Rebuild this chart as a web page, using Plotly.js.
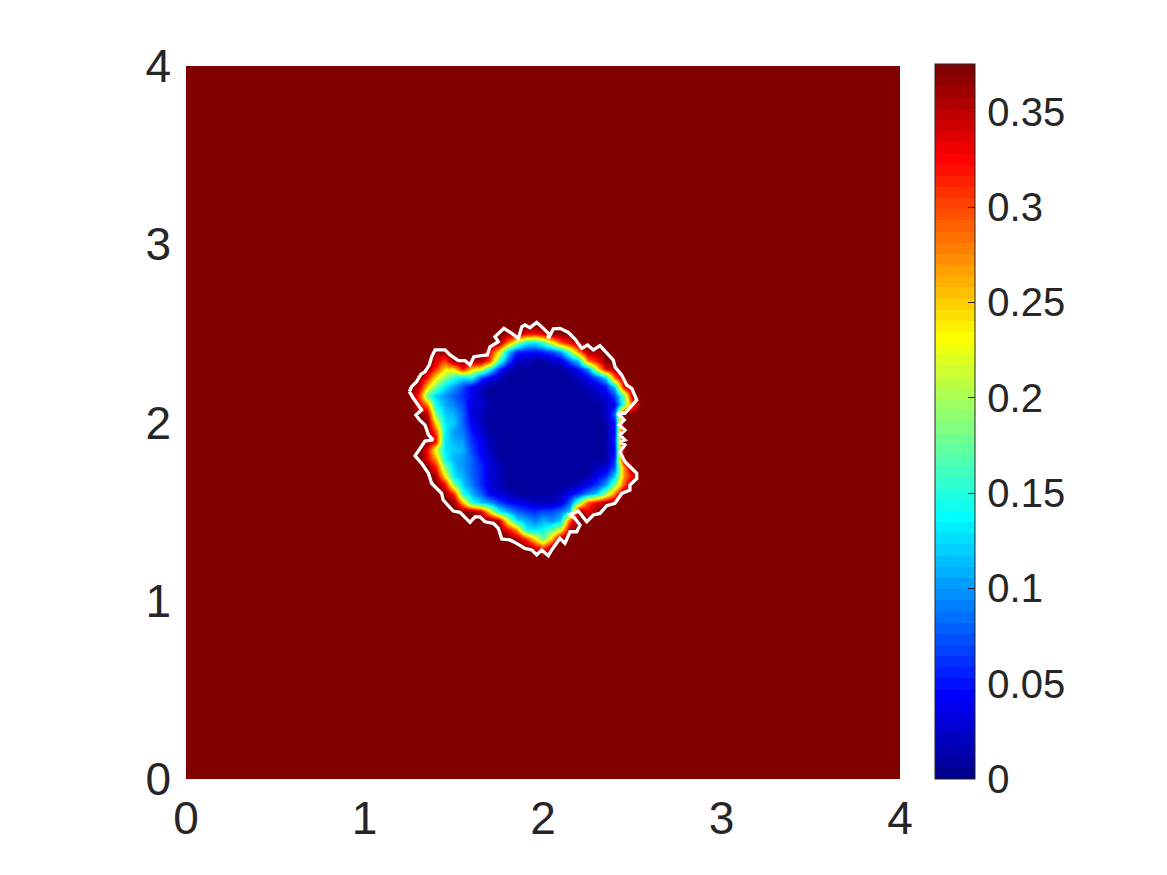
<!DOCTYPE html>
<html>
<head>
<meta charset="utf-8">
<script src="https://cdn.plot.ly/plotly-3.0.1.min.js"></script>
<style>html,body{margin:0;padding:0;background:#fff}#chart{width:1167px;height:875px}</style>
</head>
<body>
<div id="chart"></div>
<script>
// Field sampled every 0.05 over the whole square; outside the blob it sits at the top of the scale.
const GRID_STEP = 0.05;
const GRID_COUNT = 81;
const FIELD_OUTSIDE = 0.38;
const BLOB_X_START = 1.20;   // x of the first column in blobRows
const BLOB_Y_TOP = 2.50;     // y of the first row in blobRows (rows go downward)
// values in hundredths
const blobRows = [
[38,38,38,38,38,38,38,38,38,38,38,38,36,37,33,32,34,37,37,37,38,38,38,38,38,38,38,38,38],
[38,38,38,38,38,38,38,38,38,38,38,37,28,20,14,13,16,22,29,33,36,38,38,38,38,38,38,38,38],
[38,38,38,38,36,37,38,38,38,38,33,24,12,6,5,5,6,7,10,18,28,36,36,37,38,38,38,38,38],
[38,38,38,38,34,30,37,37,36,36,30,17,8,2,2,1,1,2,3,8,12,28,32,37,38,38,38,38,38],
[38,38,38,37,31,24,24,32,25,22,14,6,2,1,1,1,1,1,1,2,5,9,22,33,36,38,38,38,38],
[38,38,37,32,24,19,15,13,14,7,4,2,1,1,1,1,1,1,1,1,2,4,7,12,29,36,38,38,38],
[38,38,35,25,18,13,10,7,4,2,1,1,1,1,1,1,1,1,1,1,1,2,3,5,12,33,37,38,38],
[38,37,31,17,12,10,8,6,4,2,1,1,1,1,1,1,1,1,1,1,1,1,2,3,7,17,36,38,38],
[38,38,33,28,14,11,9,7,3,3,1,1,1,1,1,1,1,1,1,1,1,1,1,2,4,16,30,38,38],
[38,38,37,35,18,12,11,8,3,2,1,1,1,1,1,1,1,1,1,1,1,1,1,2,8,36,38,38,38],
[38,38,38,37,24,13,12,8,4,2,1,1,1,1,1,1,1,1,1,1,1,1,1,1,5,37,38,38,38],
[38,38,38,38,30,14,10,9,5,3,1,1,1,1,1,1,1,1,1,1,1,1,1,1,5,38,38,38,38],
[38,38,38,38,33,13,11,10,6,4,2,1,1,1,1,1,1,1,1,1,1,1,1,1,6,38,38,38,38],
[38,38,38,33,22,13,12,11,7,4,2,1,1,1,1,1,1,1,1,1,1,1,1,1,5,36,38,38,38],
[38,38,38,33,27,14,11,10,8,5,3,1,1,1,1,1,1,1,1,1,1,1,1,1,6,37,38,38,38],
[38,38,38,38,32,19,12,10,8,6,3,2,1,1,1,1,1,1,1,1,1,1,2,3,8,27,37,38,38],
[38,38,38,38,36,24,13,11,8,6,3,2,1,1,1,1,1,1,1,1,1,1,4,6,12,27,33,38,38],
[38,38,38,38,38,33,19,12,9,6,3,2,1,1,1,1,1,1,1,1,2,4,6,10,18,29,38,38,38],
[38,38,38,38,38,37,31,15,11,8,4,3,2,1,1,1,1,1,2,4,6,9,12,19,28,38,38,38,38],
[38,38,38,38,38,38,37,26,15,12,10,7,5,4,3,2,2,2,3,8,18,30,33,36,37,38,38,38,38],
[38,38,38,38,38,38,38,38,37,34,24,14,11,8,7,6,7,7,9,12,38,33,37,38,38,38,38,38,38],
[38,38,38,38,38,38,38,38,38,38,38,35,22,13,11,9,11,10,12,30,38,38,38,38,38,38,38,38,38],
[38,38,38,38,38,38,38,38,38,38,38,38,33,27,14,13,14,17,22,35,38,38,38,38,38,38,38,38,38],
[38,38,38,38,38,38,38,38,38,38,38,38,38,36,31,24,17,25,37,38,38,38,38,38,38,38,38,38,38],
[38,38,38,38,38,38,38,38,38,38,38,38,38,38,38,34,30,36,38,38,38,38,38,38,38,38,38,38,38]
];
// White front line
const frontX = [1.251,1.264,1.292,1.315,1.339,1.363,1.376,1.395,1.451,1.479,1.526,1.563,1.591,1.613,1.657,1.688,1.703,1.750,1.731,1.781,1.825,1.862,1.881,1.899,1.927,1.965,2.002,2.030,2.030,2.058,2.095,2.142,2.179,2.217,2.250,2.282,2.319,2.357,2.394,2.403,2.441,2.469,2.497,2.525,2.487,2.459,2.418,2.455,2.426,2.459,2.431,2.459,2.431,2.459,2.431,2.459,2.525,2.525,2.487,2.487,2.441,2.403,2.357,2.319,2.282,2.245,2.198,2.151,2.179,2.207,2.189,2.151,2.123,2.095,2.049,2.030,1.992,1.965,1.937,1.899,1.852,1.815,1.769,1.750,1.722,1.675,1.647,1.619,1.591,1.535,1.497,1.441,1.432,1.376,1.358,1.320,1.283,1.315,1.339,1.385,1.358,1.349,1.339,1.308,1.288,1.320,1.292,1.274,1.251];
const frontY = [2.173,2.201,2.229,2.270,2.285,2.323,2.369,2.407,2.407,2.379,2.347,2.347,2.323,2.369,2.375,2.379,2.425,2.453,2.481,2.528,2.500,2.472,2.537,2.547,2.532,2.562,2.528,2.500,2.472,2.525,2.528,2.505,2.468,2.416,2.435,2.407,2.431,2.388,2.350,2.313,2.266,2.210,2.192,2.126,2.083,2.052,2.052,2.014,1.986,1.958,1.930,1.902,1.892,1.874,1.836,1.780,1.715,1.686,1.649,1.621,1.602,1.547,1.533,1.490,1.481,1.443,1.503,1.485,1.462,1.425,1.387,1.387,1.322,1.350,1.285,1.253,1.285,1.257,1.285,1.294,1.322,1.341,1.346,1.406,1.434,1.443,1.471,1.471,1.440,1.496,1.503,1.565,1.602,1.659,1.715,1.771,1.813,1.864,1.896,1.902,1.930,1.958,1.986,2.014,2.042,2.070,2.108,2.136,2.173];
const axisTicks = [0,1,2,3,4];
const colorbarTicks = [0,0.05,0.1,0.15,0.2,0.25,0.3,0.35];
const FIELD_MIN = 0, FIELD_MAX = 0.375;

// Stepped 64-level jet palette
function jetLevels(n){
  const clip = v => Math.max(0, Math.min(1, v));
  const scale = [];
  for (let i = 0; i < n; i++) {
    const t = (i + 1) / n;
    const r = clip(Math.min(4*t - 1.5, -4*t + 4.5));
    const g = clip(Math.min(4*t - 0.5, -4*t + 3.5));
    const b = clip(Math.min(4*t + 0.5, -4*t + 2.5));
    const c = `rgb(${Math.round(r*255)},${Math.round(g*255)},${Math.round(b*255)})`;
    scale.push([i/n, c], [(i+1)/n, c]);
  }
  return scale;
}

const colOffset = Math.round(BLOB_X_START / GRID_STEP);
const rowTop = Math.round(BLOB_Y_TOP / GRID_STEP);
const z = [];
for (let r = 0; r < GRID_COUNT; r++) {
  const row = new Array(GRID_COUNT).fill(FIELD_OUTSIDE);
  const src = blobRows[rowTop - r];
  if (src) src.forEach((v, i) => { row[colOffset + i] = v / 100; });
  z.push(row);
}

const textColor = '#262626';
const traces = [
  {
    type: 'heatmap', z, x0: 0, dx: GRID_STEP, y0: 0, dy: GRID_STEP,
    zmin: FIELD_MIN, zmax: FIELD_MAX, zsmooth: 'best',
    colorscale: jetLevels(64), hoverinfo: 'skip',
    colorbar: {
      x: 1.049, xanchor: 'left', xpad: 0, y: 0, yanchor: 'bottom', ypad: 0,
      len: 1.003, lenmode: 'fraction', thickness: 40, thicknessmode: 'pixels',
      outlinecolor: textColor, outlinewidth: 1, borderwidth: 0,
      tickmode: 'array', tickvals: colorbarTicks,
      ticktext: colorbarTicks.map(v => '\u200a' + String(v)),
      ticks: 'inside', ticklen: 7, tickwidth: 1, tickcolor: textColor,
      tickfont: {family: '"Liberation Sans", Arial, sans-serif', size: 40, color: textColor}
    }
  },
  {
    type: 'scatter', mode: 'lines', x: frontX, y: frontY,
    line: {color: '#ffffff', width: 3.3, shape: 'linear'},
    hoverinfo: 'skip', showlegend: false
  }
];
const axisCommon = {
  range: [0, 4], tickmode: 'array', tickvals: axisTicks, ticks: '', showgrid: false,
  zeroline: false, showline: false,
  tickfont: {family: '"Liberation Sans", Arial, sans-serif', size: 46, color: textColor}
};
const layout = {
  width: 1167, height: 875,
  margin: {l: 186, r: 267, t: 66, b: 96, pad: 0},
  paper_bgcolor: '#ffffff', plot_bgcolor: '#ffffff',
  showlegend: false,
  xaxis: Object.assign({}, axisCommon, {ticklabelstandoff: 8}),
  yaxis: Object.assign({}, axisCommon, {ticklabelstandoff: 14})
};
Plotly.newPlot('chart', traces, layout, {displayModeBar: false, staticPlot: true});
</script>
</body>
</html>
